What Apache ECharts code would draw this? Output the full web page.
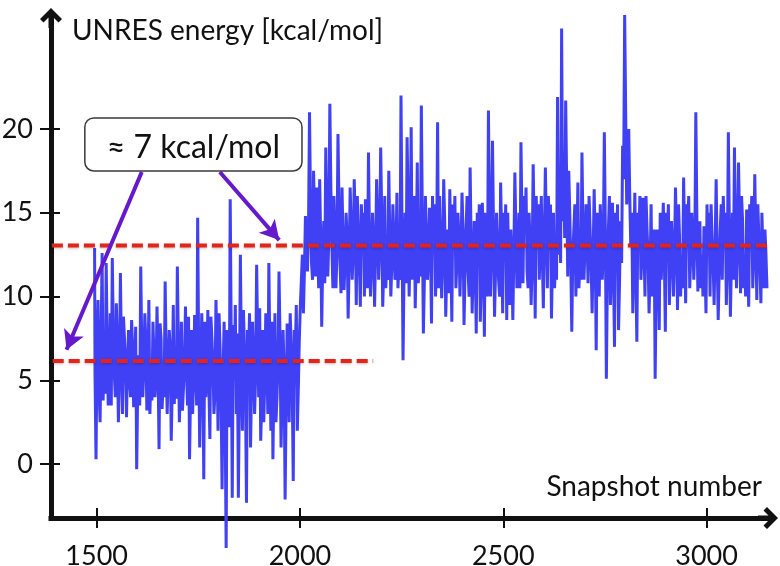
<!DOCTYPE html>
<html><head><meta charset="utf-8">
<script src="https://cdn.jsdelivr.net/npm/echarts@6/dist/echarts.min.js"></script>
<style>html,body{margin:0;padding:0;background:#fff}#c{width:780px;height:566px}</style>
</head><body><div id="c"></div>
<script>
// ---- data ----
const firstSnapshot = 1495;
const snapshotStep = 5;
const midOffset = 2;
// snapshots 1495, 1500 .. 1990
const energyBefore = [
  12.9, 0.3, 9.8, 2.5, 12.6,   7.0, 12.0, 3.5, 9.0, 12.3,
  5.3, 9.6, 2.5, 11.4, 3.0,    7.5, 2.8, 8.0, 4.0, 7.0,
  5.0, -0.3, 6.5, 11.8, 4.0,   9.0, 3.2, 9.8, 5.5, 8.5,
  4.0, 9.4, 0.9, 7.5, 5.0,     10.9, 3.0, 8.0, 1.4, 9.5,
  6.0, 11.8, 2.5, 8.5, 4.5,    9.4, 3.5, 0.3, 8.0, 5.0,
  6.0, 14.7, 1.0, 9.0, -0.9,   4.0, 9.2, 1.5, 7.5, 3.0,
  9.8, 2.0, 7.0, -1.5, 8.5,    -5.0, 6.0, 15.8, -2.0, 5.0,
  3.0, -2.0, 12.5, 2.0, 7.0,   -2.3, 6.0, 1.0, 8.5, 3.0,
  11.9, 4.0, 1.4, 8.0, 5.0,    6.5, 12.0, 2.0, 0.3, 9.0,
  4.0, 11.5, 1.0, 8.0, -2.1,   8.4, 2.5, 7.0, -1.0, 6.5
];
// snapshots 1497, 1502 .. 1992
const midBefore = [
  5.5, 6.8, 4.5, 7.5, 3.8,  4.2, 7.2, 5.0, 3.5, 7.8,
  4.0, 7.0, 5.5, 6.5, 8.8,  5.8, 6.2, 5.0, 8.6, 3.4,
  8.2, 4.5, 3.5, 7.0, 5.6,  7.4, 4.8, 3.0, 3.8, 6.4,
  5.2, 6.0, 8.4, 3.3, 4.0,  6.5, 5.4, 6.9, 4.6, 3.6,
  3.9, 7.2, 5.0, 3.2, 6.2,  5.5, 8.8, 4.4, 3.0, 8.9,
  3.5, 6.5, 5.0, 6.2, 8.5,  5.8, 4.7, 8.8, 6.0, 4.2,
  6.6, 9.0, 4.0, 5.5, 2.8,  8.0, 2.2, 7.6, 8.3, 9.5,
  7.8, 4.0, 6.5, 9.2, 4.2,  8.0, 9.0, 4.8, 6.0, 5.2,
  7.5, 9.3, 3.8, 2.5, 9.0,  3.0, 6.8, 8.5, 5.0, 2.5,
  6.0, 7.5, 4.0, 5.5, 3.5,  6.2, 9.0, 4.5, 8.0, 9.5
];
// snapshots 1995, 2000 .. 3150
const energyAfter = [
  2.0, 7.5, 11.0, 9.0, 14.8,   11.5, 21.0, 12.0, 17.5, 11.2,
  13.0, 17.0, 8.2, 14.5, 18.9, 11.2, 21.5, 13.0, 16.0, 10.5,
  19.7, 12.0, 16.5, 10.4, 15.0, 8.7, 16.5, 11.0, 17.0, 9.5,
  14.0, 9.4, 13.0, 10.0, 12.5, 18.6, 10.0, 15.0, 9.4, 17.0,
  11.0, 18.9, 9.4, 16.0, 12.0, 17.5, 10.0, 15.5, 11.0, 16.2,
  12.0, 22.0, 6.2, 15.0, 19.5, 10.0, 20.1, 13.0, 9.3, 18.0,
  12.0, 21.4, 7.8, 16.0, 11.0, 15.3, 8.4, 13.0, 10.0, 20.4,
  16.0, 9.9, 17.0, 8.8, 14.0,  16.4, 8.5, 13.5, 10.5, 15.0,
  10.0, 16.2, 8.3, 14.0, 11.5, 17.7, 9.0, 14.5, 7.8, 13.0,
  8.5, 15.6, 7.6, 12.5, 21.1,  10.0, 19.3, 8.8, 15.0, 11.0,
  16.8, 9.0, 13.0, 8.6, 11.5,  14.0, 8.6, 17.4, 10.5, 15.0,
  19.2, 10.8, 14.5, 11.5, 15.0, 9.5, 17.9, 8.7, 13.0, 11.0,
  16.0, 9.3, 17.7, 10.5, 13.5, 8.7, 15.0, 12.0, 21.9, 16.0,
  26.0, 18.0, 21.7, 11.2, 15.0, 7.9, 14.0, 10.0, 16.8, 12.0,
  18.6, 11.0, 15.5, 10.8, 14.0, 9.0, 16.4, 6.8, 13.0, 15.5,
  11.0, 19.8, 5.1, 14.0, 9.5,  15.6, 7.0, 12.5, 8.0, 14.5,
  19.0, 26.8, 15.5, 20.0, 13.0, 9.0, 16.2, 7.3, 13.5, 11.0,
  15.9, 10.0, 14.0, 9.0, 15.5, 12.5, 5.1, 14.0, 8.0, 11.0,
  15.6, 7.9, 13.0, 9.5, 14.5,  10.0, 16.5, 9.2, 13.5, 12.0,
  17.1, 9.6, 14.0, 10.5, 15.0, 11.0, 21.0, 10.3, 14.5, 12.5,
  14.2, 9.0, 13.0, 10.0, 13.5, 9.5, 17.0, 8.6, 14.0, 11.0,
  13.5, 9.5, 19.8, 8.8, 15.0,  18.9, 10.5, 18.0, 10.2, 14.5,
  12.0, 15.2, 9.4, 13.5, 10.5, 17.3, 9.8, 13.5, 9.6, 12.5,
  14.0, 10.5
];
// snapshots 1997, 2002 .. 3147
const midAfter = [
  4.5, 9.5, 12.5, 11.5, 13.0,   14.0, 15.5, 11.0, 14.5, 16.5,
  10.5, 13.5, 12.0, 10.8, 15.0, 13.5, 16.5, 10.5, 13.8, 12.5,
  15.5, 10.2, 13.2, 12.2, 13.5, 12.0, 14.0, 12.8, 14.2, 16.0,
  12.0, 15.5, 15.0, 15.8, 10.5, 13.5, 12.0, 13.0, 12.5, 14.5,
  13.0, 15.0, 11.5, 10.5, 11.0, 13.5, 12.0, 13.5, 12.5, 10.5,
  11.0, 14.0, 11.5, 10.8, 15.5, 13.0, 11.0, 16.0, 12.5, 10.8,
  11.2, 14.5, 11.0, 13.5, 12.5, 13.0, 16.0, 15.5, 12.5, 10.5,
  13.0, 12.0, 14.5, 11.5, 10.2, 12.5, 15.5, 16.0, 12.0, 13.5,
  12.5, 14.0, 11.5, 16.0, 10.0, 13.0, 11.5, 12.0, 15.0, 15.5,
  11.0, 13.0, 15.0, 10.0, 15.0, 13.0, 14.0, 11.5, 13.0, 10.0,
  13.5, 15.0, 15.5, 15.0, 9.5,  12.0, 12.5, 14.0, 12.0, 10.5,
  14.5, 16.0, 16.5, 10.5, 13.0, 12.0, 14.0, 16.0, 15.5, 13.0,
  12.5, 13.5, 14.0, 16.0, 15.5, 12.0, 10.5, 11.0, 12.5, 12.0,
  14.5, 13.5, 16.5, 17.5, 12.0, 12.5, 15.5, 13.0, 10.5, 11.0,
  14.0, 13.0, 13.5, 16.0, 12.0, 12.5, 13.0, 15.0, 10.0, 13.5,
  13.0, 14.0, 11.0, 16.0, 12.0, 11.5, 15.0, 15.5, 11.0, 12.0,
  17.0, 21.0, 17.0, 16.0, 15.0, 12.5, 11.5, 15.0, 16.0, 12.5,
  13.0, 16.0, 12.5, 11.5, 10.0, 14.0, 10.5, 12.5, 15.0, 13.0,
  12.5, 15.0, 15.5, 12.0, 13.0, 12.5, 13.5, 15.5, 10.0, 10.5,
  13.0, 15.5, 16.0, 12.5, 13.5, 13.0, 15.0, 12.5, 10.5, 10.0,
  12.0, 15.5, 15.0, 15.5, 12.0, 13.0, 12.5, 11.5, 15.5, 16.0,
  15.0, 12.0, 14.0, 12.0, 11.0, 14.0, 13.0, 14.5, 16.0, 10.5,
  10.0, 12.5, 15.5, 16.0, 12.5, 13.5, 15.5, 12.0, 15.0, 10.5,
  12.5
];
const xTickValues = [1500, 2000, 2500, 3000];
const yTickValues = [0, 5, 10, 15, 20];
const levelBefore = 6.16;
const levelAfter = 13.05;
const levelBeforeRange = [1392, 2180];
const levelAfterRange = [1390, 3151];
const xRange = [1387.8, 3151];
const yRange = [-3.21, 26.62];
const annotationText = '\u2248 7 kcal/mol';
const yAxisTitle = 'UNRES energy [kcal/mol]';
const xAxisTitle = 'Snapshot number';
// annotation anchors in data space
const boxCorners = [[1471, 20.66], [2005, 17.49]];
const arrowLeft = [[1611, 17.43], [1426, 6.83]];
const arrowRight = [[1803, 17.43], [1949, 13.37]];

// ---- build ----
const mainVals = energyBefore.concat(energyAfter);
const midVals = midBefore.concat(midAfter);
const seriesData = [];
mainVals.forEach((v, i) => {
  const s = firstSnapshot + i * snapshotStep;
  seriesData.push([s, v]);
  if (i < midVals.length) seriesData.push([s + midOffset, midVals[i]]);
});

const FONT = 'Lato';
const AX = '#111';
const arrowPath = 'path://M11,0 L22,11 L18.5,14.5 L13.5,9.5 L13.5,20 L8.5,20 L8.5,9.5 L3.5,14.5 L0,11 Z';
const blue = '#4040f4';
const red = '#e3241b';
const purple = '#6419cc';

const chart = echarts.init(document.getElementById('c'), null, {renderer: 'canvas'});
const baseX = {
  type: 'value', min: xRange[0], max: xRange[1], position: 'bottom', splitLine: {show: false}
};
const baseY = {
  type: 'value', min: yRange[0], max: yRange[1], position: 'left', splitLine: {show: false}
};
const option = {
  animation: false,
  backgroundColor: '#fff',
  grid: {left: 51, right: 12, top: 18, bottom: 48, containLabel: false, outerBoundsMode: 'none'},
  xAxis: [
    Object.assign({}, baseX, {
      axisLine: {show: true, onZero: false, symbol: ['none', arrowPath], symbolSize: [22, 20],
        lineStyle: {color: AX, width: 5, cap: 'square'}},
      axisTick: {show: true, inside: false, length: 10, customValues: xTickValues,
        lineStyle: {color: AX, width: 2}},
      axisLabel: {show: true, customValues: xTickValues, margin: 25,
        formatter: v => String(v),
        fontFamily: FONT, fontSize: 27, color: AX}
    }),
    Object.assign({}, baseX, {
      axisLine: {show: false, onZero: false},
      axisTick: {show: true, inside: true, length: 10, customValues: xTickValues,
        lineStyle: {color: AX, width: 2}},
      axisLabel: {show: false}
    })
  ],
  yAxis: [
    Object.assign({}, baseY, {
      axisLine: {show: true, onZero: false, symbol: ['none', arrowPath], symbolSize: [22, 20],
        lineStyle: {color: AX, width: 5, cap: 'square'}},
      axisTick: {show: true, inside: false, length: 11, customValues: yTickValues,
        lineStyle: {color: AX, width: 2}},
      axisLabel: {show: true, customValues: yTickValues, margin: 18,
        formatter: v => String(v),
        fontFamily: FONT, fontSize: 27, color: AX}
    }),
    Object.assign({}, baseY, {
      axisLine: {show: false, onZero: false},
      axisTick: {show: true, inside: true, length: 9, customValues: yTickValues,
        lineStyle: {color: AX, width: 2}},
      axisLabel: {show: false}
    })
  ],
  series: [
    {
      type: 'line', data: seriesData, showSymbol: false, step: 'middle', clip: false,
      lineStyle: {color: blue, width: 3}, z: 2, silent: true
    },
    {
      type: 'line', showSymbol: false, silent: true, z: 4,
      data: [[levelBeforeRange[0], levelBefore], [levelBeforeRange[1], levelBefore]],
      lineStyle: {color: red, width: 4, type: [11, 5], shadowColor: 'rgba(0,0,0,0.25)', shadowBlur: 3, shadowOffsetY: 1}
    },
    {
      type: 'line', showSymbol: false, silent: true, z: 4,
      data: [[levelAfterRange[0], levelAfter], [levelAfterRange[1], levelAfter]],
      lineStyle: {color: red, width: 4, type: [11, 5], shadowColor: 'rgba(0,0,0,0.25)', shadowBlur: 3, shadowOffsetY: 1}
    },
    {
      type: 'line', data: [], silent: true, z: 5,
      markLine: {
        silent: true, animation: false,
        symbol: ['none', 'arrow'], symbolSize: [16, 19],
        label: {show: false},
        lineStyle: {color: purple, width: 4, type: 'solid'},
        emphasis: {disabled: true},
        data: [
          [{coord: arrowLeft[0]}, {coord: arrowLeft[1]}],
          [{coord: arrowRight[0]}, {coord: arrowRight[1]}]
        ]
      }
    }
  ]
};
chart.setOption(option);

const p0 = chart.convertToPixel({gridIndex: 0}, boxCorners[0]);
const p1 = chart.convertToPixel({gridIndex: 0}, boxCorners[1]);
chart.setOption({
  graphic: [
    {type: 'text', left: 72, top: 17, z: 10,
      style: {text: yAxisTitle, fontFamily: FONT, fontSize: 28, fill: AX}},
    {type: 'text', right: 18, top: 473, z: 10,
      style: {text: xAxisTitle, fontFamily: FONT, fontSize: 28, fill: AX}},
    {type: 'rect', z: 20,
      shape: {x: p0[0], y: p0[1], width: p1[0] - p0[0], height: p1[1] - p0[1], r: 9},
      style: {fill: '#fff', stroke: '#3a3a3a', lineWidth: 1.5}},
    {type: 'text', z: 21,
      x: (p0[0] + p1[0]) / 2, y: (p0[1] + p1[1]) / 2 + 3,
      style: {text: annotationText, fontFamily: FONT, fontSize: 32, fill: AX,
        align: 'center', verticalAlign: 'middle'}}
  ]
});
</script></body></html>
